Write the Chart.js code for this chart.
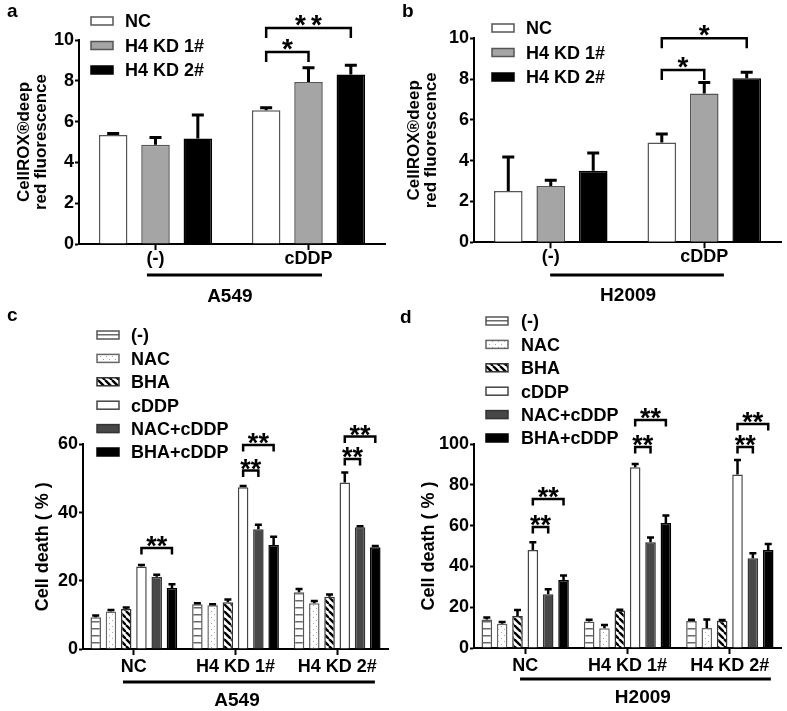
<!DOCTYPE html>
<html><head><meta charset="utf-8">
<script src="https://cdn.jsdelivr.net/npm/chart.js@4.4.1/dist/chart.umd.min.js"></script>
<style>
html,body{margin:0;padding:0;background:#fff;}
#wrap{position:relative;width:787px;height:711px;overflow:hidden;font-family:"Liberation Sans",Arial,sans-serif;}
canvas{position:absolute;}
.pl{position:absolute;font-weight:bold;font-size:19px;line-height:19px;color:#000;}
</style></head><body>
<div id="wrap">
<canvas id="ca" width="395" height="310" style="left:0px;top:0px"></canvas>
<canvas id="cb" width="392" height="310" style="left:395px;top:0px"></canvas>
<canvas id="cc" width="395" height="401" style="left:0px;top:310px"></canvas>
<canvas id="cd" width="392" height="401" style="left:395px;top:310px"></canvas>
<div class="pl" style="left:7px;top:1px">a</div>
<div class="pl" style="left:402px;top:1px">b</div>
<div class="pl" style="left:7px;top:305px">c</div>
<div class="pl" style="left:400px;top:307px">d</div>
</div>
<script>
// ---------------- DATA ----------------
const catsAB = ['(-)', 'cDDP'];
const seriesAB = ['NC', 'H4 KD 1#', 'H4 KD 2#'];
// panel a (A549)
const aNC = [5.34, 6.56],  aNCerr = [0.08, 0.12];
const aKD1 = [4.86, 7.94], aKD1err = [0.36, 0.70];
const aKD2 = [5.17, 8.31], aKD2err = [1.15, 0.45];
// panel b (H2009)
const bNC = [2.52, 4.89],  bNCerr = [1.66, 0.42];
const bKD1 = [2.76, 7.30], bKD1err = [0.28, 0.53];
const bKD2 = [3.51, 8.04], bKD2err = [0.87, 0.29];

const catsCD = ['NC', 'H4 KD 1#', 'H4 KD 2#'];
const seriesCD = ['(-)', 'NAC', 'BHA', 'cDDP', 'NAC+cDDP', 'BHA+cDDP'];
// panel c (A549)
const cNone = [9.3, 13.1, 16.6],     cNoneErr = [0.5, 0.3, 1.0];
const cNAC = [11.0, 12.8, 13.4],     cNACErr = [0.4, 0.3, 0.7];
const cBHA = [11.7, 13.7, 15.3],     cBHAErr = [0.5, 0.8, 0.7];
const cDDP = [24.2, 47.4, 48.8],     cDDPErr = [0.4, 0.4, 2.9];
const cNACD = [21.2, 35.1, 35.7],    cNACDErr = [0.6, 1.3, 0.3];
const cBHAD = [17.9, 30.5, 29.8],    cBHADErr = [1.1, 2.4, 0.4];
// panel d (H2009)
const dNone = [14.0, 13.0, 13.4],    dNoneErr = [0.9, 0.8, 0.5];
const dNAC = [11.9, 9.7, 9.8],       dNACErr = [0.8, 1.6, 4.2];
const dBHA = [15.7, 18.4, 13.4],     dBHAErr = [2.9, 0.3, 0.3];
const dDDP = [48.0, 88.6, 85.1],     dDDPErr = [3.8, 1.6, 7.1];
const dNACD = [26.3, 51.8, 44.0],    dNACDErr = [2.5, 2.4, 2.4];
const dBHAD = [33.3, 61.3, 48.0],    dBHADErr = [2.3, 3.7, 3.0];

// significance brackets: category index, from/to series index, bracket height (data units)
const brA = [{cat:1, from:0, to:1, y:9.41, t:'*'}, {cat:1, from:0, to:2, y:10.59, t:'**', sp:5}];
const brB = [{cat:1, from:0, to:1, y:8.45, t:'*'}, {cat:1, from:0, to:2, y:10.0, t:'*'}];
const brC = [{cat:0, from:3, to:5, y:29.6, t:'**'}, {cat:1, from:3, to:4, y:52.3, t:'**'}, {cat:1, from:3, to:5, y:59.8, t:'**'},
             {cat:2, from:3, to:4, y:55.7, t:'**'}, {cat:2, from:3, to:5, y:62.3, t:'**'}];
const brD = [{cat:0, from:3, to:4, y:59.3, t:'**'}, {cat:0, from:3, to:5, y:73.0, t:'**'}, {cat:1, from:3, to:4, y:98.5, t:'**'},
             {cat:1, from:3, to:5, y:111.8, t:'**'}, {cat:2, from:3, to:4, y:98.5, t:'**'}, {cat:2, from:3, to:5, y:109.8, t:'**'}];

// ---------------- STYLE ----------------
const FF = '"Liberation Sans", Arial, Helvetica, sans-serif';
Chart.defaults.font.family = FF;
Chart.defaults.color = '#000';

function pat(w, h, draw) {
  const c = document.createElement('canvas'); c.width = w; c.height = h;
  const g = c.getContext('2d'); draw(g, w, h);
  return g.createPattern(c, 'repeat');
}
const hLines = pat(8, 7, (g, w, h) => { g.fillStyle = '#fff'; g.fillRect(0, 0, w, h); g.fillStyle = '#6a6a6a'; g.fillRect(0, 3, w, 1.5); });
const dots = pat(6, 6, (g, w, h) => { g.fillStyle = '#fff'; g.fillRect(0, 0, w, h); g.fillStyle = '#a8a8a8'; g.fillRect(1, 1, 1, 1); g.fillRect(4, 4, 1, 1); });
const diag = pat(7, 7, (g, w, h) => {
  g.fillStyle = '#fff'; g.fillRect(0, 0, w, h); g.strokeStyle = '#000'; g.lineWidth = 2.4;
  for (const x0 of [-7, 0, 7]) { g.beginPath(); g.moveTo(x0, 0); g.lineTo(x0 + 7, 7); g.stroke(); }
});

const stylesAB = [{bg:'#ffffff', bd:'#555'}, {bg:'#a5a5a5', bd:'#555'}, {bg:'#000000', bd:'#000'}];
const stylesCD = [{bg:hLines, bd:'#555'}, {bg:dots, bd:'#666'}, {bg:diag, bd:'#333'},
                  {bg:'#ffffff', bd:'#444'}, {bg:'#484848', bd:'#333'}, {bg:'#000000', bd:'#000'}];

function makeDeco(p) {
  return {
    id: 'deco',
    afterDraw(chart) {
      const ctx = chart.ctx, ys = chart.scales.y, ca = chart.chartArea;
      ctx.save();
      // error bars (upper, SD)
      chart.data.datasets.forEach((ds, di) => {
        chart.getDatasetMeta(di).data.forEach((bar, i) => {
          const ty = ys.getPixelForValue(ds.data[i] + ds.err[i]);
          ctx.strokeStyle = '#000'; ctx.lineWidth = p.errW; ctx.lineCap = 'butt';
          ctx.beginPath();
          ctx.moveTo(bar.x, bar.y); ctx.lineTo(bar.x, ty);
          ctx.moveTo(bar.x - p.capW / 2, ty); ctx.lineTo(bar.x + p.capW / 2, ty);
          ctx.stroke();
        });
      });
      // brackets
      p.brackets.forEach(b => {
        const m1 = chart.getDatasetMeta(b.from).data[b.cat], m2 = chart.getDatasetMeta(b.to).data[b.cat];
        const y = ys.getPixelForValue(b.y);
        ctx.strokeStyle = '#000'; ctx.lineWidth = 2.5; ctx.lineJoin = 'miter';
        ctx.beginPath();
        ctx.moveTo(m1.x, y + p.leg); ctx.lineTo(m1.x, y); ctx.lineTo(m2.x, y); ctx.lineTo(m2.x, y + p.leg);
        ctx.stroke();
        ctx.fillStyle = '#000'; ctx.font = 'bold ' + p.star + 'px ' + FF;
        ctx.textAlign = 'center'; ctx.textBaseline = 'alphabetic';
        const sp = b.sp || 0;
        ctx.letterSpacing = sp + 'px';
        ctx.fillText(b.t, (m1.x + m2.x) / 2 + sp / 2, y - p.starGap + 0.57 * p.star);
        ctx.letterSpacing = '0px';
      });
      // legend
      const L = p.legend;
      chart.data.datasets.forEach((ds, di) => {
        const cy = L.y + di * L.dy;
        ctx.fillStyle = ds.backgroundColor; ctx.fillRect(L.x, cy - 4, 22, 8);
        ctx.strokeStyle = ds.borderColor; ctx.lineWidth = 1.5; ctx.strokeRect(L.x, cy - 4, 22, 8);
        ctx.fillStyle = '#000'; ctx.font = 'bold 18px ' + FF; ctx.textAlign = 'left'; ctx.textBaseline = 'alphabetic';
        ctx.fillText(ds.label, L.tx, cy + 0.358 * 18);
      });
      // group line and cell-line label
      const G = p.group, w = ca.right - ca.left;
      ctx.fillStyle = '#000';
      ctx.fillRect(ca.left + G.f1 * w, G.ly - 1.5, (G.f2 - G.f1) * w, 3);
      ctx.font = 'bold 19px ' + FF; ctx.textAlign = 'center';
      ctx.fillText(G.text, ca.left + G.ft * w, G.ty + 0.358 * 19);
      ctx.restore();
    }
  };
}

function build(id, p) {
  const cv = document.getElementById(id);
  const W = cv.width, H = cv.height;
  const tickFont = {size:18, weight:'bold', lineHeight:1};
  return new Chart(cv, {
    type: 'bar',
    data: {
      labels: p.labels,
      datasets: p.series.map((s, i) => ({
        label: p.names[i], data: s[0], err: s[1],
        backgroundColor: p.styles[i].bg, borderColor: p.styles[i].bd, borderWidth: 1.5,
        categoryPercentage: p.cp, barPercentage: p.bp
      }))
    },
    options: {
      responsive: false, animation: false, events: [],
      layout: {padding: {left: 0, top: p.box.top, right: W - p.box.right, bottom: 0}},
      plugins: {legend: {display: false}, tooltip: {enabled: false}},
      scales: {
        x: {
          type: 'category', offset: true,
          grid: {drawOnChartArea: false, drawTicks: true, tickLength: 6, tickWidth: 2, tickColor: '#000', offset: false},
          border: {display: true, color: '#000', width: 2},
          ticks: {color: '#000', font: tickFont, padding: p.xPad, maxRotation: 0, autoSkip: false},
          afterFit(s) { s.height = H - p.box.bottom; }
        },
        y: {
          min: 0, max: p.yMax,
          ticks: {stepSize: p.yStep, color: '#000', font: tickFont, padding: 1},
          grid: {drawOnChartArea: false, drawTicks: true, tickLength: 4, tickWidth: 2, tickColor: '#000'},
          border: {display: true, color: '#000', width: 2},
          title: {display: true, text: p.yTitle, color: '#000', font: {size: p.titleSize, weight: 'bold', lineHeight: 1.05}, padding: {top: p.titlePad, bottom: 0}},
          afterFit(s) { s.width = p.box.left; }
        }
      }
    },
    plugins: [makeDeco(p)]
  });
}

build('ca', {
  labels: catsAB, names: seriesAB, styles: stylesAB,
  series: [[aNC, aNCerr], [aKD1, aKD1err], [aKD2, aKD2err]],
  cp: 0.83, bp: 0.674, box: {left: 79, right: 385, top: 40, bottom: 244},
  yMax: 10, yStep: 2, yTitle: ['CellROX®deep', 'red fluorescence'], titleSize: 17, titlePad: 15, xPad: 0,
  errW: 3, capW: 12, brackets: brA, leg: 10, star: 28, starGap: 10,
  legend: {x: 91, y: 21, dy: 24.5, tx: 125},
  group: {f1: 0.222, f2: 0.794, ly: 275, text: 'A549', ft: 0.493, ty: 295}
});
build('cb', {
  labels: catsAB, names: seriesAB, styles: stylesAB,
  series: [[bNC, bNCerr], [bKD1, bKD1err], [bKD2, bKD2err]],
  cp: 0.83, bp: 0.674, box: {left: 79, right: 386, top: 38.3, bottom: 242.3},
  yMax: 10, yStep: 2, yTitle: ['CellROX®deep', 'red fluorescence'], titleSize: 17, titlePad: 10, xPad: 0,
  errW: 3, capW: 12, brackets: brB, leg: 10, star: 28, starGap: 10,
  legend: {x: 97, y: 28, dy: 24.5, tx: 131},
  group: {f1: 0.248, f2: 0.814, ly: 275, text: 'H2009', ft: 0.502, ty: 294}
});
build('cc', {
  labels: catsCD, names: seriesCD, styles: stylesCD,
  series: [[cNone, cNoneErr], [cNAC, cNACErr], [cBHA, cBHAErr], [cDDP, cDDPErr], [cNACD, cNACDErr], [cBHAD, cBHADErr]],
  cp: 0.90, bp: 0.69, box: {left: 83, right: 388, top: 134.3, bottom: 339},
  yMax: 60, yStep: 20, yTitle: 'Cell death ( % )', titleSize: 18, titlePad: 34, xPad: 3,
  errW: 2.5, capW: 7, brackets: brC, leg: 6.5, star: 27, starGap: 8,
  legend: {x: 97, y: 25, dy: 23.4, tx: 131},
  group: {f1: 0.131, f2: 0.957, ly: 372, text: 'A549', ft: 0.505, ty: 389}
});
build('cd', {
  labels: catsCD, names: seriesCD, styles: stylesCD,
  series: [[dNone, dNoneErr], [dNAC, dNACErr], [dBHA, dBHAErr], [dDDP, dDDPErr], [dNACD, dNACDErr], [dBHAD, dBHADErr]],
  cp: 0.90, bp: 0.69, box: {left: 79, right: 386, top: 134, bottom: 338},
  yMax: 100, yStep: 20, yTitle: 'Cell death ( % )', titleSize: 18, titlePad: 25, xPad: 3,
  errW: 2.5, capW: 7, brackets: brD, leg: 6.5, star: 27, starGap: 8,
  legend: {x: 91, y: 11, dy: 23.4, tx: 126},
  group: {f1: 0.150, f2: 0.967, ly: 369, text: 'H2009', ft: 0.55, ty: 386}
});
</script>
</body></html>
